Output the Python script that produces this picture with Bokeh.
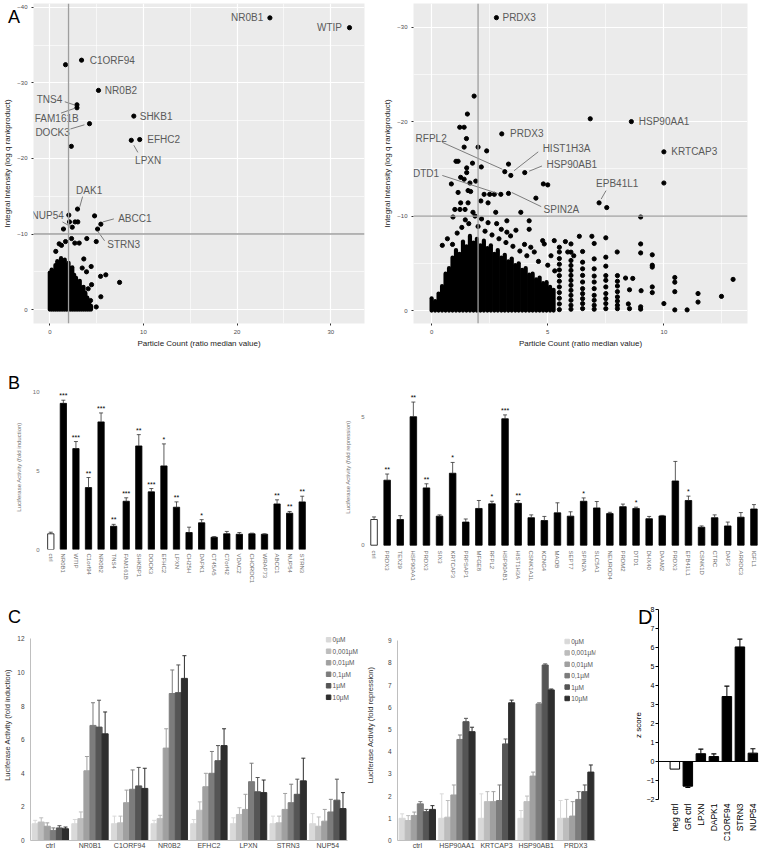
import math
from bokeh.plotting import figure
from bokeh.layouts import column, row
from bokeh.models import Range1d, FixedTicker, Span, Div
from bokeh.embed import file_html
from bokeh.resources import INLINE
from bokeh.core.properties import value

FONT = "Liberation Sans"

# ======================= DATA =======================
# ---- Panel A left: GR screen, labelled hits ----
a1_lab_names = ["NR0B1", "WTIP", "C1ORF94", "NR0B2", "TNS4", "FAM161B", "SHKB1", "DOCK3",
                "LPXN", "EFHC2", "DAK1", "NUP54", "ABCC1", "STRN3"]
a1_lab_x = [23.5, 32.0, 3.39, 5.2, 2.9, 2.9, 8.97, 4.24, 8.7, 9.6, 2.96, 2.4, 5.45, 5.1]
a1_lab_y = [-38.6, -37.3, -33.0, -29.0, -27.1, -26.7, -25.6, -24.6, -22.4, -22.5, -13.3, -10.9, -11.3, -10.66]
a1_txt_x = [22.8, 31.2, 4.27, 5.88, 1.33, -1.6, 9.6, 2.14, 10.5, 10.4, 4.2, 1.5, 7.3, 6.13]
a1_txt_y = [-38.6, -37.3, -33.0, -29.0, -27.8, -25.3, -25.6, -23.4, -19.7, -22.5, -15.8, -12.4, -12.1, -8.6]
a1_txt_align = ["right", "right", "left", "left", "right", "left", "left", "right", "center", "left",
                "center", "right", "left", "left"]
a1_lead_x0 = [1.6, 1.2, 2.21, 8.97, 3.5, 1.35, 5.66, 5.1]
a1_lead_y0 = [-27.5, -26.0, -23.9, -21.75, -14.95, -11.6, -11.6, -10.4]
a1_lead_x1 = [2.7, 2.7, 3.7, 9.4, 3.2, 2.2, 6.84, 5.85]
a1_lead_y1 = [-27.05, -26.65, -24.45, -20.8, -13.6, -11.0, -12.0, -9.1]
# other (unlabelled) points
a1_px = [1.68, 2.3, 2.03, 1.46, 2.1, 2.7, 2.99, 4.78, 2.32, 2.67, 3.14, 3.95, 4.96, 1.0, 1.68, 1.25,
         0.64, 3.63, 3.46, 3.92, 4.42, 5.42, 5.98, 7.45, 5.45, 4.96, 4.35, 4.0, 4.46, 4.1]
a1_py = [-32.4, -21.6, -12.5, -10.66, -11.6, -11.6, -11.6, -12.4, -9.4, -8.8, -8.8, -9.4, -9.0, -8.7,
         -9.0, -8.5, -7.7, -6.7, -5.5, -5.0, -5.7, -4.4, -4.6, -3.6, -1.7, -0.35, -1.2, -0.35, -3.3, -2.76]
# dense cloud near the origin: upper envelope per particle-count column
a1_cloud_x = [0.0, 0.2, 0.4, 0.6, 0.8, 1.0, 1.2, 1.4, 1.6, 1.8, 2.0, 2.2, 2.4, 2.6, 2.8, 3.0, 3.2,
              3.4, 3.6, 3.8, 4.0, 4.2, 4.4]
a1_cloud_top = [-4.9, -5.3, -5.1, -5.9, -6.4, -6.0, -6.8, -6.3, -6.6, -5.9, -6.2, -5.5, -5.6, -4.6,
                -4.2, -3.5, -3.8, -2.9, -3.0, -2.2, -1.6, -1.1, -0.5]

# ---- Panel A right: MR screen ----
a2_lab_names = ["PRDX3", "HSP90AA1", "PRDX3", "KRTCAP3", "RFPL2", "HIST1H3A", "HSP90AB1", "DTD1",
                "SPIN2A", "EPB41L1"]
a2_lab_x = [2.79, 8.6, 3.02, 10.0, 3.15, 3.41, 4.01, 2.98, 3.31, 7.21]
a2_lab_y = [-31.0, -20.0, -18.7, -16.8, -14.7, -14.3, -14.6, -12.3, -12.4, -11.4]
a2_txt_x = [3.05, 8.92, 3.38, 10.32, 0.65, 4.78, 4.95, 0.32, 4.82, 7.99]
a2_txt_y = [-31.0, -20.0, -18.7, -16.8, -18.2, -17.2, -15.5, -14.5, -10.7, -13.4]
a2_txt_align = ["left", "left", "left", "left", "right", "left", "left", "right", "left", "center"]
a2_lead_x0 = [0.46, 4.59, 4.75, 0.46, 3.45, 7.51]
a2_lead_y0 = [-17.8, -16.8, -15.3, -14.3, -12.5, -12.7]
a2_lead_x1 = [3.05, 3.55, 4.2, 2.9, 4.72, 7.3]
a2_lead_y1 = [-14.95, -14.8, -14.75, -12.35, -11.0, -11.8]
a2_px = [6.83, 10.0, 1.83, 1.54, 1.21, 1.40, 1.5, 1.40, 2.0, 2.37, 1.05, 1.14, 1.76, 2.14, 1.51, 1.51,
         1.25, 1.40, 0.85, 1.9, 1.65, 1.57, 1.68, 1.14, 1.25, 1.57, 2.26, 2.5, 2.7, 2.12, 2.43, 2.76,
         1.22, 1.44, 1.78, 1.87, 1.0, 0.92, 3.84, 4.2, 4.2, 2.43, 3.24, 3.63, 3.0, 4.49, 4.81, 5.0,
         3.24, 0.68, 0.46, 4.78, 4.85, 5.28, 5.76, 6.36, 4.27, 4.42, 5.5, 5.14, 5.86, 6.12, 7.54, 9.0,
         9.0, 9.0, 9.5, 7.99, 6.9, 7.0, 7.5, 8.66, 8.52, 9.02, 9.0, 9.0, 9.5, 9.5, 9.5, 9.5, 10.0,
         10.47, 10.47, 10.47, 10.47, 11.0, 11.47, 11.47, 12.48, 12.98, 8.35, 8.52, 8.47, 3.31,
         1.1, 1.3, 1.6, 2.0, 2.3, 2.6, 2.9, 3.2, 3.5, 3.8, 4.1, 0.9, 1.45, 2.15, 2.8, 3.4, 4.0, 4.6,
         5.0, 5.3]
a2_py = [-20.3, -13.5, -22.7, -20.8, -19.4, -19.4, -18.2, -17.3, -17.3, -16.9, -15.8, -15.8, -15.6,
         -15.2, -15.1, -14.6, -14.1, -13.9, -13.4, -13.7, -13.5, -12.7, -12.6, -12.5, -11.4, -11.4,
         -12.3, -12.3, -12.3, -11.6, -11.4, -10.4, -10.7, -10.7, -10.4, -10.0, -10.7, -9.9, -10.4,
         -9.5, -8.6, -9.3, -9.5, -8.5, -8.6, -11.9, -13.4, -13.3, -8.3, -7.6, -6.9, -7.4, -7.05, -7.4,
         -7.3, -7.86, -6.7, -6.2, -6.7, -5.8, -6.2, -5.8, -10.9, -9.9, -7.05, -6.1, -5.9, -6.2, -7.86,
         -7.1, -7.7, -3.4, -2.2, -2.1, -0.4, -0.15, -1.9, -2.5, -4.6, -4.8, -0.74, -3.5, -3.0, -2.0,
         -0.07, -0.07, -1.8, -0.9, -1.5, -3.3, -3.44, -0.2, -0.7, -15.5,
         -8.2, -8.8, -9.2, -8.9, -8.4, -8.0, -7.6, -7.2, -6.8, -6.3, -5.8, -7.0, -9.6, -9.7, -9.2, -7.9,
         -7.0, -5.2, -4.8, -4.2]
# stacked values at discrete ratios 5.5 ... 8.0
a2_stack_x = [5.5] * 11 + [6.0] * 13 + [6.5] * 10 + [7.0] * 9 + [7.5] * 9 + [8.0] * 8
a2_stack_y = [-6.2, -5.5, -4.9, -4.3, -3.7, -3.1, -2.5, -1.9, -1.3, -0.7, -0.1,
              -7.05, -6.18, -5.3, -4.77, -4.25, -3.72, -3.19, -2.67, -2.14, -1.61, -1.09, -0.56, -0.14,
              -6.25, -5.12, -4.42, -3.72, -3.02, -2.32, -1.79, -1.26, -0.74, -0.21,
              -5.47, -4.42, -3.65, -3.02, -2.32, -1.61, -1.09, -0.56, -0.14,
              -5.65, -4.7, -3.7, -3.2, -2.5, -1.8, -1.26, -0.74, -0.2,
              -3.7, -3.1, -2.6, -2.0, -1.44, -1.0, -0.56, -0.2]
a2_cloud_x = [0.0, 0.15, 0.3, 0.45, 0.6, 0.75, 0.9, 1.05, 1.2, 1.35, 1.5, 1.65, 1.8, 1.95, 2.1, 2.25,
              2.4, 2.55, 2.7, 2.85, 3.0, 3.15, 3.3, 3.45, 3.6, 3.75, 3.9, 4.05, 4.2, 4.35, 4.5, 4.65,
              4.8, 4.95, 5.1, 5.25]
a2_cloud_top = [-1.3, -1.0, -1.8, -2.6, -3.9, -4.5, -5.6, -6.4, -6.0, -7.3, -6.8, -7.9, -7.2, -7.6,
                -6.9, -7.4, -6.6, -6.9, -6.0, -6.4, -5.6, -5.9, -5.2, -5.5, -4.8, -5.0, -4.3, -4.5,
                -3.8, -3.9, -3.3, -3.5, -2.9, -3.0, -2.5, -2.2]

# ---- Panel B: luciferase activity ----
b1_names = ["ctrl", "NR0B1", "WTIP", "C1orf94", "NR0B2", "TNS4", "FAM161B", "SHKBP1", "DOCK3", "EFHC2",
            "LPXN", "CH25H", "DAPK1", "CT45A5", "C7orf42", "VDAC2", "CHORDC1", "WRAP73", "ABCC1",
            "NUP54", "STRN3"]
b1_vals = [1.0, 9.3, 6.42, 3.94, 8.12, 1.48, 3.07, 6.59, 3.67, 5.32, 2.69, 1.08, 1.7, 0.78, 1.0,
           0.97, 1.0, 0.97, 2.9, 2.31, 3.03]
b1_err = [1.1, 9.5, 6.87, 4.58, 8.69, 1.6, 3.29, 7.31, 3.88, 6.72, 3.03, 1.42, 1.9, 0.82, 1.15,
          1.08, 1.04, 1.0, 3.16, 2.42, 3.39]
b1_sig = ["", "***", "***", "**", "***", "**", "***", "**", "***", "*", "**", "", "*", "", "", "", "",
          "", "**", "**", "**"]
b2_names = ["ctrl", "PRDX3", "TEX29", "HSP90AA1", "PRDX3", "SIX3", "KRTCAP3", "PRPSAP1", "MFGE8",
            "RFPL2", "HSP90AB1", "HIST1H3A", "CSNK1A1L", "KCNG4", "MAOB", "SEPT7", "SPIN2A", "SLC5A1",
            "NEUROD4", "PRDM2", "DTD1", "DHX40", "DAAM2", "PRDX3", "EPB41L1", "CSNK1D", "CTRC", "DAP3",
            "ARRDC3", "IGFL1"]
b2_vals = [1.0, 2.53, 1.0, 5.0, 2.23, 1.13, 2.8, 0.9, 1.43, 1.61, 4.92, 1.63, 1.07, 0.96, 1.26, 1.13,
           1.71, 1.45, 1.23, 1.5, 1.43, 1.03, 1.14, 2.5, 1.74, 0.7, 1.07, 0.75, 1.09, 1.41]
b2_err = [1.1, 2.77, 1.15, 5.57, 2.39, 1.18, 3.22, 1.02, 1.74, 1.71, 5.07, 1.74, 1.18, 1.12, 1.65, 1.3,
          1.84, 1.7, 1.28, 1.6, 1.48, 1.12, 1.16, 3.26, 1.91, 0.75, 1.18, 0.9, 1.27, 1.58]
b2_sig = ["", "**", "", "**", "**", "", "*", "", "", "*", "***", "**", "", "", "", "", "*", "", "",
          "", "*", "", "", "", "*", "", "", "", "", ""]

# ---- Panel C: dose response ----
conc = ["0µM", "0,001µM", "0,01µM", "0,1µM", "1µM", "10µM"]
conc_colors = ["#d9d9d9", "#bdbdbd", "#a0a0a0", "#7c7c7c", "#555555", "#2e2e2e"]
c1_groups = ["ctrl", "NR0B1", "C1ORF94", "NR0B2", "EFHC2", "LPXN", "STRN3", "NUP54"]
c1_0 = [1.0, 1.0, 1.0, 1.0, 1.0, 1.0, 1.0, 1.0]
c1_0001 = [1.1, 1.3, 1.05, 1.3, 1.8, 1.55, 1.05, 0.85]
c1_001 = [0.85, 4.15, 2.25, 5.5, 3.2, 1.85, 1.85, 1.15]
c1_01 = [0.6, 6.85, 3.05, 8.75, 4.0, 3.5, 2.25, 1.7]
c1_1 = [0.75, 6.75, 3.25, 8.8, 4.75, 2.9, 2.75, 2.4]
c1_10 = [0.7, 6.35, 3.1, 9.65, 5.65, 2.85, 3.55, 1.9]
c1_0_e = [1.2, 1.25, 1.45, 1.2, 1.25, 1.35, 1.45, 1.6]
c1_0001_e = [1.35, 1.7, 1.45, 1.5, 2.3, 1.95, 1.45, 1.4]
c1_001_e = [1.05, 5.0, 3.0, 6.65, 4.0, 2.75, 2.8, 1.85]
c1_01_e = [0.75, 8.2, 4.2, 10.15, 5.3, 4.6, 3.35, 2.45]
c1_1_e = [0.88, 8.35, 4.35, 10.45, 5.65, 3.75, 3.65, 3.65]
c1_10_e = [0.8, 7.65, 4.3, 11.0, 6.65, 3.6, 4.9, 2.85]
c2_groups = ["ctrl", "HSP90AA1", "KRTCAP3", "HSP90AB1", "PRDX3"]
c2_0 = [1.0, 1.0, 1.0, 1.0, 1.0]
c2_0001 = [0.9, 1.05, 1.75, 1.75, 1.0]
c2_001 = [1.12, 2.05, 1.75, 2.9, 1.1]
c2_01 = [1.65, 4.55, 1.8, 6.15, 1.85]
c2_1 = [1.3, 5.35, 4.35, 7.9, 2.2]
c2_10 = [1.4, 4.9, 6.2, 6.78, 3.08]
c2_0_e = [1.2, 2.1, 2.1, 1.35, 1.8]
c2_0001_e = [1.12, 1.8, 2.2, 2.0, 1.85]
c2_001_e = [1.28, 2.5, 2.2, 3.08, 1.75]
c2_01_e = [1.75, 4.75, 2.5, 6.2, 2.2]
c2_1_e = [1.4, 5.5, 4.57, 7.95, 2.5]
c2_10_e = [1.57, 5.1, 6.32, 6.82, 3.4]

# ---- Panel D: z scores ----
d_names = ["neg ctrl", "GR ctrl", "LPXN", "DAPK1", "C1ORF94", "STRN3", "NUP54"]
d_vals = [-0.4, -1.3, 0.41, 0.26, 3.42, 6.03, 0.44]
d_err = [-0.4, -1.36, 0.65, 0.4, 3.97, 6.44, 0.67]

panel_letters = ["A", "B", "C", "D"]


# ======================= HELPERS =======================
def mkfig(w, h, left, right, top, bottom, xr, yr):
    p = figure(width=w, height=h, x_range=xr, y_range=yr, output_backend="svg",
               toolbar_location=None, title=None, min_border_left=left, min_border_right=right,
               min_border_top=top, min_border_bottom=bottom)
    p.outline_line_color = None
    p.border_fill_color = "white"
    return p


def style_axis(ax, label_size, label_color, tick_color, tick_out, standoff, title_size=None,
               title_color="#222222", title_standoff=3, line_color=None):
    ax.axis_line_color = line_color
    ax.major_tick_line_color = tick_color
    ax.major_tick_out = tick_out
    ax.major_tick_in = 0
    ax.minor_tick_line_color = None
    ax.major_label_text_font = FONT
    ax.major_label_text_font_size = label_size
    ax.major_label_text_color = label_color
    ax.major_label_standoff = standoff
    ax.axis_label_text_font = FONT
    ax.axis_label_text_font_style = "normal"
    if title_size:
        ax.axis_label_text_font_size = title_size
    ax.axis_label_text_color = title_color
    ax.axis_label_standoff = title_standoff


def scatter_panel(p, xt, xmin, yt, ymin, names, lx, ly, tx, ty, align, l0x, l0y, l1x, l1y,
                  px, py, cx, ctop, refx):
    p.background_fill_color = "#EBEBEB"
    p.xaxis.ticker = FixedTicker(ticks=xt, minor_ticks=xmin)
    p.yaxis.ticker = FixedTicker(ticks=yt, minor_ticks=ymin)
    for g in (p.xgrid[0], p.ygrid[0]):
        g.grid_line_color = "white"
        g.grid_line_width = 1.2
        g.minor_grid_line_color = "white"
        g.minor_grid_line_width = 0.6
    for ax in (p.xaxis[0], p.yaxis[0]):
        style_axis(ax, "6px", "#4d4d4d", "#333333", 2, 2, "8px", "#222222", 2)
    p.xaxis.axis_label = "Particle Count (ratio median value)"
    p.yaxis.axis_label = "Integral Intensity (log q rankproduct)"
    p.add_layout(Span(location=refx, dimension="height", line_color="#9e9e9e", line_width=1.3))
    p.add_layout(Span(location=-10, dimension="width", line_color="#9e9e9e", line_width=1.3))
    p.segment(x0=cx, y0=[0] * len(cx), x1=cx, y1=ctop, line_width=4.2, line_cap="round", color="black")
    p.scatter(px, py, size=4.2, color="black")
    p.scatter(lx, ly, size=4.2, color="black")
    p.segment(x0=l0x, y0=l0y, x1=l1x, y1=l1y, line_color="#6f6f6f", line_width=0.9)
    for al in ("left", "right", "center"):
        idx = [i for i, a in enumerate(align) if a == al]
        if not idx:
            continue
        p.text(x=[tx[i] for i in idx], y=[ty[i] for i in idx], text=[names[i] for i in idx],
               text_align=al, text_baseline="middle", text_font=value(FONT),
               text_font_size="10px", text_color="#5a5a5a")


def bar_panel(p, names, vals, err, sig, yticks):
    n = len(names)
    xs = list(range(n))
    fills = ["white"] + ["black"] * (n - 1)
    p.vbar(x=xs, top=vals, bottom=0, width=0.5, fill_color=fills, line_color="black", line_width=0.8)
    p.segment(x0=xs, y0=vals, x1=xs, y1=err, line_color="#333333", line_width=0.8)
    p.scatter(xs, err, marker="dash", size=4, line_color="#333333", line_width=0.8)
    p.text(x=xs, y=err, text=sig, text_align="center", text_baseline="bottom", y_offset=-1,
           text_font=value(FONT), text_font_size="7px", text_color="black")
    p.xgrid.visible = False
    p.ygrid.visible = False
    p.xaxis.ticker = FixedTicker(ticks=xs)
    p.xaxis.major_label_overrides = {i: nm for i, nm in enumerate(names)}
    p.xaxis.major_label_orientation = "vertical"
    p.yaxis.ticker = FixedTicker(ticks=yticks)


def dose_panel(p, groups, series, errs, lx, ly, ldy):
    bw = 0.153
    for k, (vals, ee, col) in enumerate(zip(series, errs, conc_colors)):
        xs = [i + 0.5 + (k - 2.5) * bw for i in range(len(groups))]
        p.vbar(x=xs, top=vals, bottom=0, width=bw, color=col)
        p.segment(x0=xs, y0=vals, x1=xs, y1=ee, line_color=col, line_width=1.0)
        p.scatter(xs, ee, marker="dash", size=4, line_color=col, line_width=1.0)
    ys = [ly - k * ldy for k in range(len(conc))]
    p.scatter([lx] * len(conc), ys, marker="square", size=4.5, color=conc_colors)
    p.text(x=[lx] * len(conc), y=ys, text=conc, x_offset=4, text_baseline="middle",
           text_font=value(FONT), text_font_size="6.5px", text_color="#555555")
    p.xgrid.visible = False
    p.ygrid.visible = False
    p.xaxis.ticker = FixedTicker(ticks=[i + 0.5 for i in range(len(groups))])
    p.xaxis.major_label_overrides = {i + 0.5: g for i, g in enumerate(groups)}
    p.xaxis.bounds = (0, len(groups))


# ======================= PANEL A =======================
pa1 = mkfig(380, 350, 33, 16, 3, 25, Range1d(-1.74, 33.6), Range1d(1.84, -40.5))
scatter_panel(pa1, [0, 10, 20, 30], [5, 15, 25], [0, -10, -20, -30, -40], [-5, -15, -25, -35],
              a1_lab_names, a1_lab_x, a1_lab_y, a1_txt_x, a1_txt_y, a1_txt_align,
              a1_lead_x0, a1_lead_y0, a1_lead_x1, a1_lead_y1, a1_px, a1_py,
              a1_cloud_x, a1_cloud_top, 2)

pa2 = mkfig(380, 350, 33, 13, 3, 25, Range1d(-0.78, 13.6), Range1d(1.37, -32.5))
scatter_panel(pa2, [0, 5, 10], [2.5, 7.5, 12.5], [0, -10, -20, -30], [-5, -15, -25],
              a2_lab_names, a2_lab_x, a2_lab_y, a2_txt_x, a2_txt_y, a2_txt_align,
              a2_lead_x0, a2_lead_y0, a2_lead_x1, a2_lead_y1, a2_px + a2_stack_x, a2_py + a2_stack_y,
              a2_cloud_x, a2_cloud_top, 2)

# ======================= PANEL B =======================
pb1 = mkfig(340, 250, 44, 32, 34, 51, Range1d(-0.5, 20.5), Range1d(0, 10.5))
bar_panel(pb1, b1_names, b1_vals, b1_err, b1_sig, [0, 5, 10])
style_axis(pb1.xaxis[0], "6px", "#707070", None, 0, 4)
style_axis(pb1.yaxis[0], "6px", "#707070", None, 0, 5, "6px", "#707070", 8)
pb1.yaxis.axis_label = "Luciferase Activity (fold induction)"

pb2 = mkfig(420, 250, 27, 0, 34, 51, Range1d(-0.5, 29.5), Range1d(-0.167, 6.253))
bar_panel(pb2, b2_names, b2_vals, b2_err, b2_sig, [0, 5])
style_axis(pb2.xaxis[0], "6px", "#707070", None, 0, 1)
style_axis(pb2.yaxis[0], "6px", "#707070", None, 0, 3, "6px", "#707070", 7)
pb2.yaxis.axis_label = "Luciferase Activity (fold repression)"

# ======================= PANEL C =======================
pc1 = mkfig(362, 251, 27, 0, 9, 11, Range1d(0, 8.375), Range1d(0, 13.75))
dose_panel(pc1, c1_groups, [c1_0, c1_0001, c1_001, c1_01, c1_1, c1_10],
           [c1_0_e, c1_0001_e, c1_001_e, c1_01_e, c1_1_e, c1_10_e], 7.52, 11.95, 0.685)
style_axis(pc1.xaxis[0], "7px", "#444444", None, 0, 1, line_color="#bfbfbf")
style_axis(pc1.yaxis[0], "6.5px", "#444444", None, 0, 6, "7.5px", "#333333", 2, line_color="#bfbfbf")
pc1.yaxis.ticker = FixedTicker(ticks=[0, 2, 4, 6, 8, 10, 12])
pc1.yaxis.bounds = (0, 12)
pc1.yaxis.axis_label = "Luciferase Activity (fold induction)"

pc2 = mkfig(268, 251, 31, 35, 9, 11, Range1d(0, 5), Range1d(0, 10.4))
dose_panel(pc2, c2_groups, [c2_0, c2_0001, c2_001, c2_01, c2_1, c2_10],
           [c2_0_e, c2_0001_e, c2_001_e, c2_01_e, c2_1_e, c2_10_e], 4.285, 8.96, 0.513)
style_axis(pc2.xaxis[0], "7px", "#444444", None, 0, 1, line_color="#bfbfbf")
style_axis(pc2.yaxis[0], "6.5px", "#444444", None, 0, 6, "7.5px", "#333333", 10, line_color="#bfbfbf")
pc2.yaxis.ticker = FixedTicker(ticks=list(range(10)))
pc2.yaxis.bounds = (0, 9)
pc2.yaxis.axis_label = "Luciferase Activity (fold repression)"

# ======================= PANEL D =======================
pd = mkfig(130, 251, 23, 2, 9, 11, Range1d(-0.255, 7.43), Range1d(-4.158, 8))
dx = list(range(1, len(d_names) + 1))
pd.vbar(x=dx, top=d_vals, bottom=0, width=0.73,
        fill_color=["white"] + ["black"] * (len(d_names) - 1), line_color="black", line_width=1)
pd.segment(x0=dx, y0=d_vals, x1=dx, y1=d_err, line_color="black", line_width=1)
pd.scatter(dx[1:], d_err[1:], marker="dash", size=5, line_color="black", line_width=1.2)
pd.add_layout(Span(location=0, dimension="width", line_color="black", line_width=1))
pd.text(x=dx, y=[-2] * len(dx), text=d_names, angle=math.pi / 2, text_align="right",
        text_baseline="middle", y_offset=4, text_font=value(FONT), text_font_size="8.5px",
        text_color="black")
pd.xgrid.visible = False
pd.ygrid.visible = False
pd.xaxis.visible = False
pd.yaxis.ticker = FixedTicker(ticks=list(range(-2, 9)))
pd.yaxis.bounds = (-2, 8)
style_axis(pd.yaxis[0], "7px", "black", "black", 3, 1, "8px", "black", 1, line_color="black")
pd.yaxis.axis_label = "z score"

# ======================= PANEL LETTERS (overlay) =======================
letter_pos = [(3, 3, 18), (3, 369, 18), (3, 603, 18), (633, 602, 20)]
html = "".join(
    f'<span style="position:absolute;left:{x}px;top:{y}px;font-family:\'{FONT}\';'
    f'font-size:{s}px;line-height:1;color:black;">{t}</span>'
    for t, (x, y, s) in zip(panel_letters, letter_pos))
letters = Div(text=html, width=760, height=851,
              styles={"position": "absolute", "left": "0px", "top": "0px", "z-index": "10",
                      "pointer-events": "none", "overflow": "visible"})

layout = column(row(pa1, pa2), row(pb1, pb2), row(pc1, pc2, pd), letters)
open("out.html", "w").write(file_html(layout, INLINE))
